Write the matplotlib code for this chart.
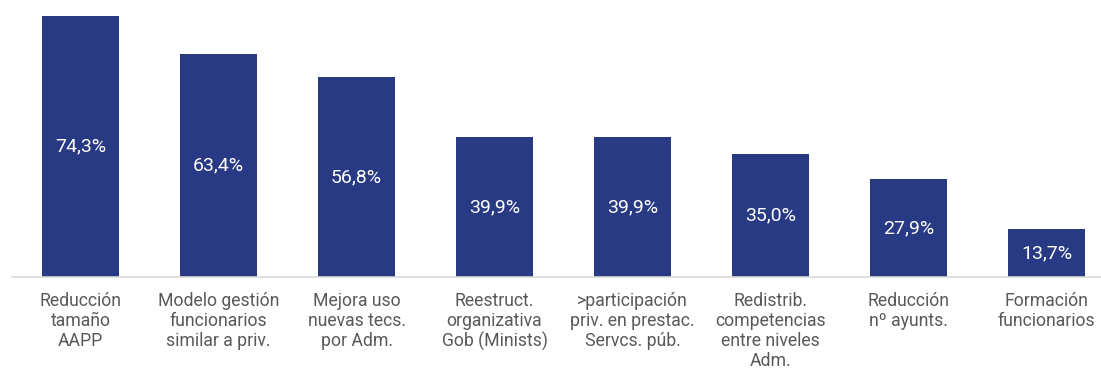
import matplotlib.pyplot as plt

# Data
CATEGORIES = [
    "Reducción\ntamaño\nAAPP",
    "Modelo gestión\nfuncionarios\nsimilar a priv.",
    "Mejora uso\nnuevas tecs.\npor Adm.",
    "Reestruct.\norganizativa\nGob (Minists)",
    ">participación\npriv. en prestac.\nServcs. púb.",
    "Redistrib.\ncompetencias\nentre niveles\nAdm.",
    "Reducción\nnº ayunts.",
    "Formación\nfuncionarios",
]
VALUES = [74.3, 63.4, 56.8, 39.9, 39.9, 35.0, 27.9, 13.7]
LABELS = ["74,3%", "63,4%", "56,8%", "39,9%", "39,9%", "35,0%", "27,9%", "13,7%"]

BAR_COLOR = "#283a84"
TEXT_COLOR = "#595959"
W, H = 1101, 369

plt.rcParams['font.family'] = ['Roboto', 'DejaVu Sans']

fig = plt.figure(figsize=(W / 100, H / 100), dpi=100)
# axes spans x 11.5..1101 px, baseline at y=277 px
ax = fig.add_axes([11.5 / W, (H - 277) / H, (W - 11.5) / W, 277 / H])
x = list(range(len(VALUES)))
ax.bar(x, VALUES, width=0.558, color=BAR_COLOR)
ax.set_xlim(-0.5, -0.5 + (W - 11.5) / 138)
ax.set_ylim(0, 277 / 3.513)

for xi, v, lab in zip(x, VALUES, LABELS):
    ax.text(xi, v / 2, lab, ha='center', va='center', color='white', fontsize=14)
    ax.annotate(CATEGORIES[xi], (xi, 0), xytext=(0, -10.5), textcoords='offset points',
                ha='center', va='top', color=TEXT_COLOR, fontsize=12.7,
                linespacing=1.15, annotation_clip=False)

for s in ['top', 'right', 'left']:
    ax.spines[s].set_visible(False)
ax.spines['bottom'].set_color('#d9d9d9')
ax.spines['bottom'].set_linewidth(1.2)
ax.set_xticks([])
ax.set_yticks([])

fig.savefig("out.png", dpi=100)
